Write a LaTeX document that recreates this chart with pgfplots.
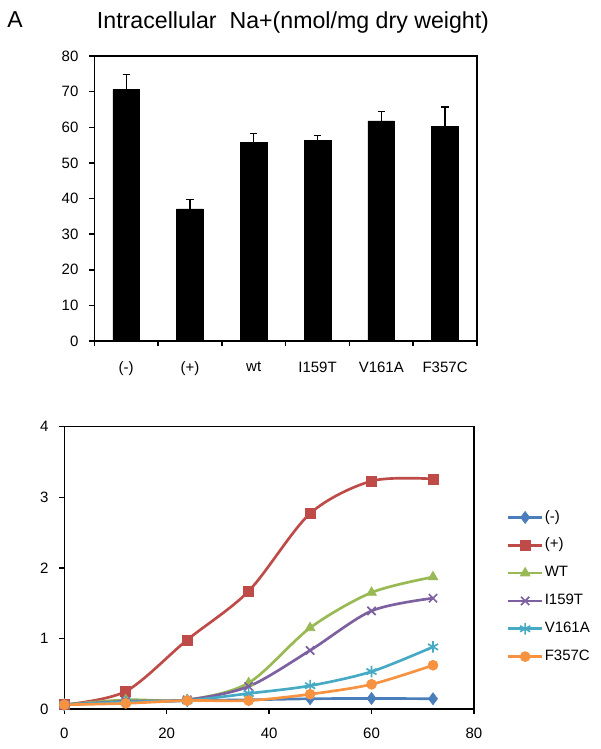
\documentclass[border=0pt]{standalone}
\usepackage{fontspec}
\setmainfont{Liberation Sans}
\usepackage{pgfplots}
\pgfplotsset{compat=1.18}
\definecolor{xblue}{HTML}{4A7EBB}
\definecolor{xred}{HTML}{BE4B48}
\definecolor{xgreen}{HTML}{98B954}
\definecolor{xpurple}{HTML}{7D60A0}
\definecolor{xaqua}{HTML}{46AAC5}
\definecolor{xorange}{HTML}{F69240}

\begin{document}
\begin{tikzpicture}
\path[use as bounding box] (0,0) rectangle (360.6pt,-449.4pt);
\node[font=\fontsize{13.8}{16}\selectfont] at (9pt,-11.8pt) {A};
\node[font=\fontsize{13.9}{16}\selectfont] at (175.8pt,-13.6pt) {Intracellular\ \ Na+(nmol/mg dry weight)};

% bar chart
\begin{axis}[
  at={(56.58pt,-204.6pt)}, anchor=south west,
  scale only axis, width=229.6pt, height=171pt,
  xmin=-0.5, xmax=5.5, ymin=0, ymax=80,
  ytick={0,10,...,80},
  xtick={0,...,5},
  xticklabels={(-),(+),wt,I159T,V161A,F357C},
  minor xtick={-0.5,0.5,...,5.5},
  major x tick style={draw=none},
  tick align=outside, tickpos=left,
  major tick length=3pt, minor tick length=3pt,
  axis line style={line width=0.9pt},
  tick style={line width=0.9pt, black},
  tick label style={font=\fontsize{9}{10}\selectfont},
  /pgf/number format/assume math mode=true,
  xticklabel style={yshift=-6pt},
  yticklabel style={xshift=-3pt},
  ybar, bar width=16pt,
]
\addplot[fill=black, draw=black,
  error bars/.cd, y dir=plus, y explicit,
  error bar style={line width=0.8pt, black},
  error mark options={rotate=90, line width=0.8pt, mark size=2.2pt, black}]
 coordinates {
  (0,70.6) +- (0,4.3)
  (1,37.1) +- (0,2.6)
  (2,55.7) +- (0,2.5)
  (3,56.2) +- (0,1.4)
  (4,61.8) +- (0,2.6)
  (5,60.2) +- (0,5.5)
 };
\end{axis}

% time course
\begin{axis}[
  at={(38.58pt,-425.4pt)}, anchor=south west,
  scale only axis, width=245.8pt, height=169.4pt,
  xmin=0, xmax=80, ymin=0, ymax=4,
  xtick={0,20,...,80}, ytick={0,...,4},
  tick align=outside, tickpos=left,
  major tick length=3pt,
  axis line style={line width=0.9pt},
  tick style={line width=0.9pt, black},
  tick label style={font=\fontsize{9}{10}\selectfont},
  /pgf/number format/assume math mode=true,
  xticklabel style={yshift=-5pt},
  yticklabel style={xshift=-3pt},
  legend style={at={(1.068,0.432)}, anchor=west, draw=none, fill=none,
    font=\fontsize{9}{10}\selectfont, row sep=7.8pt, column sep=1pt,
    nodes={inner sep=0pt, text height=6.6pt, text depth=2.3pt}},
  legend cell align=left,
  legend image code/.code={\draw[mark repeat=2,mark phase=2] plot coordinates {(0pt,0pt)(10pt,0pt)(20pt,0pt)};},
  every axis plot/.append style={line width=1.6pt, smooth, tension=0.5},
]
\addplot[xblue, mark=diamond*, mark size=3.6pt, mark options={solid, line width=0.4pt}]
 coordinates {(0,0.06)(12,0.10)(24,0.12)(36,0.13)(48,0.145)(60,0.15)(72,0.145)};
\addlegendentry{(-)}
\addplot[xred, mark=square*, mark size=3pt, mark options={solid, line width=0.4pt}]
 coordinates {(0,0.06)(12,0.25)(24,0.98)(36,1.67)(48,2.77)(60,3.23)(72,3.26)};
\addlegendentry{(+)}
\addplot[xgreen, mark=triangle*, mark size=3.4pt, mark options={solid, line width=0.4pt}]
 coordinates {(0,0.06)(12,0.13)(24,0.13)(36,0.37)(48,1.15)(60,1.65)(72,1.87)};
\addlegendentry{WT}
\addplot[xpurple, mark=x, mark size=3.5pt, mark options={solid, line width=1pt}]
 coordinates {(0,0.06)(12,0.11)(24,0.13)(36,0.32)(48,0.83)(60,1.39)(72,1.57)};
\addlegendentry{I159T}
\addplot[xaqua, mark=asterisk, mark size=3.5pt, mark options={solid, line width=1pt}]
 coordinates {(0,0.06)(12,0.10)(24,0.12)(36,0.22)(48,0.33)(60,0.53)(72,0.88)};
\addlegendentry{V161A}
\addplot[xorange, mark=*, mark size=3pt, mark options={solid, line width=0.4pt}]
 coordinates {(0,0.06)(12,0.08)(24,0.12)(36,0.12)(48,0.21)(60,0.35)(72,0.62)};
\addlegendentry{F357C}
\end{axis}
\end{tikzpicture}
\end{document}
